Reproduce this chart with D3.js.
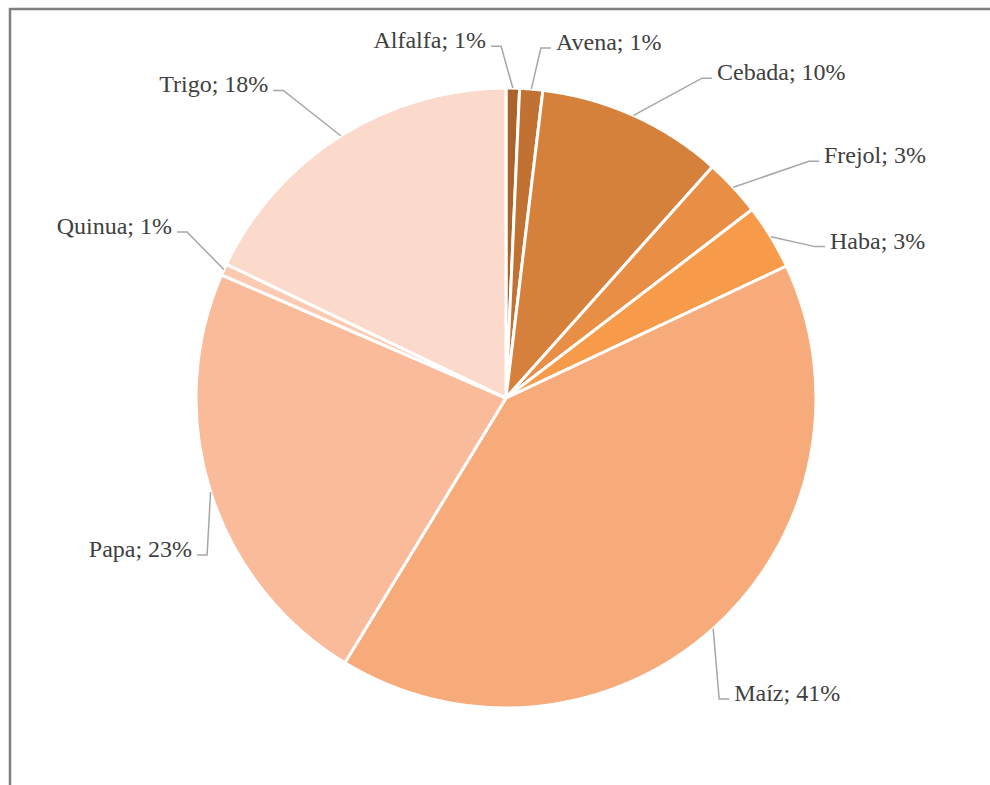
<!DOCTYPE html>
<html>
<head>
<meta charset="utf-8">
<script src="https://cdn.jsdelivr.net/npm/d3@7"></script>
<style>
  body { margin: 0; background: #fff; }
  svg text { font-family: "Liberation Serif", "DejaVu Serif", serif; }
</style>
</head>
<body>
<script>
// crops and their share of the area (percent)
var crops = ["Alfalfa", "Avena", "Cebada", "Frejol", "Haba", "Maíz", "Papa", "Quinua", "Trigo"];
var shares = [0.7, 1.2, 9.7, 3.0, 3.4, 40.7, 22.8, 0.6, 17.9];
var labels = ["1%", "1%", "10%", "3%", "3%", "41%", "23%", "1%", "18%"];
var colors = ["#a9632b", "#c17233", "#d6813b", "#e88f45", "#f79b4b",
              "#f7ab7a", "#f9bb9a", "#fbcab1", "#fcdacb"];

// where each label sits: [angle in degrees, radius as part of pie radius, side]
var labelPlace = [[-0.8, 1.135, "left"], [5.7, 1.135, "right"], [31.5, 1.21, "right"],
                  [52, 1.24, "right"], [63.9, 1.11, "right"], [144.7, 1.19, "right"],
                  [242.3, 1.089, "left"], [297.5, 1.16, "left"], [324.1, 1.225, "left"]];

var w = 990, h = 785;
var cx = 506, cy = 398, r = 310;

var svg = d3.select("body")
            .append("svg")
            .attr("width", w)
            .attr("height", h);

// frame (only left and top edges show in the crop)
svg.append("path")
   .attr("d", "M10," + h + "V9H" + w)
   .attr("fill", "none")
   .attr("stroke", "#808080")
   .attr("stroke-width", 2.5);

var data = crops.map(function(c, i) {
  return {name: c, value: shares[i], label: labels[i], color: colors[i], place: labelPlace[i]};
});

var pie = d3.pie().sort(null).value(function(d) { return d.value; });
var arc = d3.arc().innerRadius(0).outerRadius(r);
var arcs = pie(data);

var g = svg.append("g").attr("transform", "translate(" + cx + "," + cy + ")");

g.selectAll("path.slice")
 .data(arcs)
 .enter()
 .append("path")
 .attr("class", "slice")
 .attr("d", arc)
 .attr("fill", function(d) { return d.data.color; })
 .attr("stroke", "#fff")
 .attr("stroke-width", 3)
 .attr("stroke-linejoin", "round");

function polar(a, rad) {
  return [Math.sin(a) * rad, -Math.cos(a) * rad];
}

// leader lines
g.selectAll("polyline")
 .data(arcs)
 .enter()
 .append("polyline")
 .attr("points", function(d) {
   var mid = (d.startAngle + d.endAngle) / 2;
   var p0 = polar(mid, r);
   var p = d.data.place;
   var p1 = polar(p[0] * Math.PI / 180, p[1] * r);
   var p2 = [p1[0] + (p[2] == "left" ? -10 : 10), p1[1]];
   return [p0, p1, p2].join(" ");
 })
 .attr("fill", "none")
 .attr("stroke", "#a6a6a6")
 .attr("stroke-width", 1.5);

g.selectAll("text")
 .data(arcs)
 .enter()
 .append("text")
 .text(function(d) { return d.data.name + "; " + d.data.label; })
 .attr("x", function(d) {
   var p = d.data.place;
   var p1 = polar(p[0] * Math.PI / 180, p[1] * r);
   return p1[0] + (p[2] == "left" ? -15 : 15);
 })
 .attr("y", function(d) {
   var p = d.data.place;
   return polar(p[0] * Math.PI / 180, p[1] * r)[1] + 2;
 })
 .attr("text-anchor", function(d) { return d.data.place[2] == "left" ? "end" : "start"; })
 .attr("font-size", "24px")
 .attr("fill", "#404040");
</script>
</body>
</html>
